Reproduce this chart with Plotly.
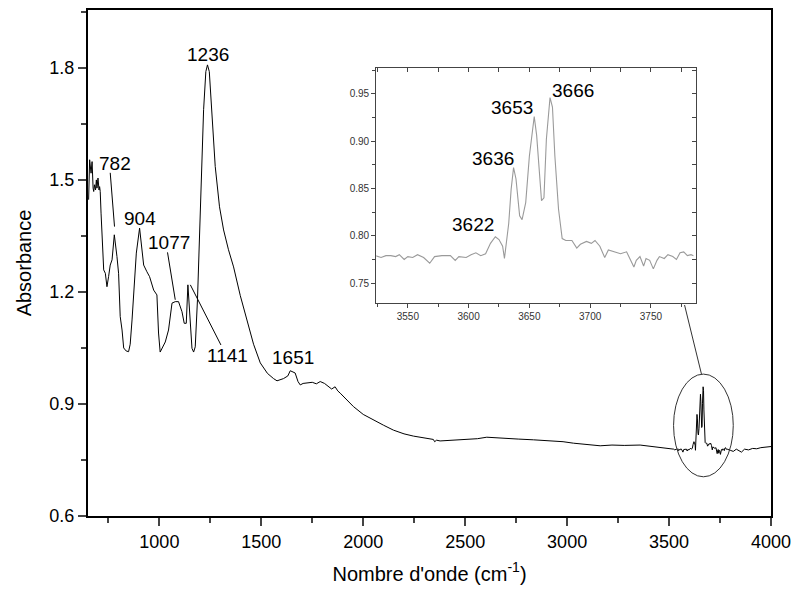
import plotly.graph_objects as go

# main spectrum, low wavenumber part
wn_low = [653, 658, 665, 670, 675, 678, 682, 687, 691, 694, 699, 704, 707, 710, 714, 719,
          727, 735, 743, 751, 759, 768, 779, 792, 800, 808, 817, 825, 837, 849, 857, 866,
          887, 903, 915, 923, 939, 952, 972, 988, 996, 1004, 1029, 1045, 1062, 1078, 1094,
          1111, 1122, 1132, 1140, 1152, 1160, 1168, 1176, 1187, 1201, 1217, 1228, 1236,
          1245, 1258, 1274, 1295, 1315, 1339, 1364, 1397, 1430, 1462, 1495, 1530, 1560,
          1577, 1609, 1630, 1642, 1655, 1666, 1680, 1691, 1705, 1724, 1750, 1770, 1789,
          1810, 1830, 1845, 1862, 1875, 1887, 1920, 1952, 2000, 2050, 2100, 2148, 2200,
          2246, 2300, 2344, 2350, 2360, 2377, 2420, 2460, 2508, 2560, 2606, 2650, 2704,
          2760, 2835, 2880, 2933, 2980, 3031, 3100, 3162, 3220, 3280, 3358, 3400, 3440,
          3480, 3500, 3515]
abs_low = [1.447, 1.554, 1.518, 1.549, 1.478, 1.469, 1.487, 1.473, 1.500, 1.478, 1.505,
           1.473, 1.482, 1.469, 1.411, 1.339, 1.259, 1.250, 1.214, 1.241, 1.272, 1.286,
           1.353, 1.295, 1.250, 1.134, 1.098, 1.050, 1.042, 1.040, 1.060, 1.125, 1.304,
           1.371, 1.313, 1.272, 1.254, 1.241, 1.205, 1.192, 1.090, 1.039, 1.066, 1.098,
           1.170, 1.174, 1.174, 1.147, 1.116, 1.116, 1.219, 1.116, 1.049, 1.039, 1.053,
           1.179, 1.447, 1.688, 1.790, 1.808, 1.790, 1.688, 1.536, 1.428, 1.366, 1.313,
           1.267, 1.190, 1.120, 1.060, 1.010, 0.982, 0.968, 0.962, 0.968, 0.975, 0.989,
           0.986, 0.983, 0.960, 0.951, 0.955, 0.957, 0.958, 0.954, 0.960, 0.955, 0.946,
           0.940, 0.946, 0.935, 0.929, 0.912, 0.893, 0.872, 0.857, 0.843, 0.830, 0.820,
           0.814, 0.808, 0.805, 0.799, 0.803, 0.801, 0.802, 0.803, 0.805, 0.807, 0.811,
           0.809, 0.808, 0.806, 0.804, 0.803, 0.802, 0.799, 0.795, 0.792, 0.788, 0.790,
           0.789, 0.790, 0.787, 0.785, 0.783, 0.781, 0.780]

# zoomed region (inset), also part of the main spectrum
wn_zoom = [3523, 3528, 3532, 3536, 3540, 3543, 3547, 3550, 3554, 3558, 3563, 3568, 3572,
           3578, 3585, 3589, 3592, 3598, 3602, 3606, 3610, 3614, 3618, 3622, 3625, 3628,
           3629.5, 3633, 3635, 3637, 3639, 3642, 3644, 3647, 3650, 3654, 3656, 3658, 3660,
           3662, 3664, 3667, 3669, 3671, 3674, 3677, 3680, 3685, 3689, 3692, 3697, 3701,
           3704, 3708, 3712, 3715, 3720, 3725, 3730, 3732, 3736, 3738, 3741, 3744, 3746,
           3749, 3752, 3755, 3757, 3761, 3764, 3768, 3771, 3774, 3777, 3780, 3783, 3785]
abs_zoom = [0.779, 0.777, 0.779, 0.779, 0.778, 0.780, 0.775, 0.778, 0.777, 0.780, 0.777,
            0.771, 0.778, 0.779, 0.779, 0.774, 0.778, 0.777, 0.780, 0.782, 0.779, 0.781,
            0.792, 0.799, 0.796, 0.789, 0.776, 0.813, 0.849, 0.872, 0.860, 0.821, 0.817,
            0.835, 0.884, 0.926, 0.906, 0.867, 0.837, 0.840, 0.902, 0.946, 0.936, 0.884,
            0.828, 0.797, 0.795, 0.795, 0.787, 0.791, 0.794, 0.792, 0.795, 0.789, 0.777,
            0.785, 0.783, 0.781, 0.783, 0.777, 0.767, 0.774, 0.778, 0.768, 0.776, 0.774,
            0.765, 0.774, 0.778, 0.776, 0.780, 0.778, 0.775, 0.782, 0.783, 0.779, 0.780,
            0.779]

wn_high = [3800, 3815, 3830, 3845, 3855, 3870, 3890, 3910, 3930, 3950, 3975, 4000]
abs_high = [0.776, 0.773, 0.779, 0.774, 0.771, 0.779, 0.777, 0.781, 0.780, 0.783, 0.784, 0.786]

# peak labels
main_peaks = ["782", "904", "1077", "1141", "1236", "1651"]
main_lab_x = [781, 907, 1049, 1335, 1240, 1654]
main_lab_y = [1.543, 1.398, 1.332, 1.029, 1.835, 1.025]
inset_peaks = ["3622", "3636", "3653", "3666"]
inset_lab_x = [3603.6, 3620, 3635.5, 3686]
inset_lab_y = [0.812, 0.882, 0.936, 0.9535]

FONT = "Arial, Liberation Sans, sans-serif"

fig = go.Figure()
fig.add_trace(go.Scatter(x=wn_low + wn_zoom + wn_high, y=abs_low + abs_zoom + abs_high,
                         mode="lines", line=dict(color="black", width=1),
                         showlegend=False, hoverinfo="skip"))
fig.add_trace(go.Scatter(x=wn_zoom, y=abs_zoom, xaxis="x2", yaxis="y2", mode="lines",
                         line=dict(color="#9a9a9a", width=1.1),
                         showlegend=False, hoverinfo="skip"))
# dummy trace so top/right inset axes are drawn
fig.add_trace(go.Scatter(x=[wn_zoom[0]], y=[abs_zoom[0]], xaxis="x3", yaxis="y3",
                         mode="markers", marker=dict(opacity=0), showlegend=False,
                         hoverinfo="skip"))

for t, x, y in zip(main_peaks, main_lab_x, main_lab_y):
    fig.add_annotation(x=x, y=y, xref="x", yref="y", text=t, showarrow=False,
                       font=dict(family=FONT, size=19, color="black"))
for t, x, y in zip(inset_peaks, inset_lab_x, inset_lab_y):
    fig.add_annotation(x=x, y=y, xref="x2", yref="y2", text=t, showarrow=False,
                       font=dict(family=FONT, size=19, color="black"))

# leader lines
leaders = [(759, 1.519, 780, 1.375), (1040, 1.306, 1078, 1.179), (1152, 1.219, 1302, 1.058)]
for x0, y0, x1, y1 in leaders:
    fig.add_shape(type="line", x0=x0, y0=y0, x1=x1, y1=y1, xref="x", yref="y",
                  line=dict(color="black", width=1))
# ellipse around the OH band and connector to the inset
fig.add_shape(type="circle", x0=3522, x1=3815, y0=0.705, y1=0.98, xref="x", yref="y",
              line=dict(color="#333333", width=1))
fig.add_shape(type="line", x0=3576, y0=1.165, x1=3659, y1=0.98, xref="x", yref="y",
              line=dict(color="#333333", width=1))

fig.update_layout(
    width=796, height=593,
    margin=dict(l=88, r=25, t=10, b=77),
    paper_bgcolor="white", plot_bgcolor="white",
    font=dict(family=FONT, color="black"),
    xaxis=dict(range=[650, 4000], tick0=0, dtick=500, ticks="outside", ticklen=8,
               tickwidth=1.5, showline=True, linewidth=2, linecolor="black",
               mirror=True, showgrid=False, zeroline=False, automargin=False,
               tickfont=dict(size=18, family=FONT),
               minor=dict(dtick=250, ticks="outside", ticklen=5, tickwidth=1.5),
               title=dict(text="Nombre d'onde (cm<sup>-1</sup>)",
                          font=dict(size=20, family=FONT), standoff=16)),
    yaxis=dict(range=[0.6, 1.955], tick0=0.6, dtick=0.3, tickformat=".1f",
               ticks="outside", ticklen=8, tickwidth=1.5, showline=True, linewidth=2,
               linecolor="black", mirror=True, showgrid=False, zeroline=False,
               automargin=False, tickfont=dict(size=18, family=FONT),
               minor=dict(dtick=0.15, ticks="outside", ticklen=5, tickwidth=1.5),
               title=dict(text="Absorbance", font=dict(size=20, family=FONT), standoff=12)),
    xaxis2=dict(domain=[0.422, 0.890], anchor="y2", range=[3524, 3787], tick0=3500,
                dtick=50, ticks="outside", ticklen=4, tickwidth=1, showline=True,
                linewidth=1.2, linecolor="#444444", mirror=True, showgrid=False,
                zeroline=False, tickfont=dict(size=10, family=FONT, color="#333333"),
                minor=dict(dtick=25, ticks="outside", ticklen=3, tickwidth=1)),
    yaxis2=dict(domain=[0.421, 0.885], anchor="x2", range=[0.729, 0.977], tick0=0.75,
                dtick=0.05, tickformat=".2f", ticks="outside", ticklen=4, tickwidth=1,
                showline=True, linewidth=1.2, linecolor="#444444", mirror=True,
                showgrid=False, zeroline=False,
                tickfont=dict(size=10, family=FONT, color="#333333"),
                minor=dict(dtick=0.025, ticks="outside", ticklen=3, tickwidth=1)),
    xaxis3=dict(overlaying="x2", anchor="y3", side="top", range=[3524, 3787], tick0=3500,
                dtick=25, ticks="inside", ticklen=4, tickwidth=1, tickcolor="#444444",
                showticklabels=False, showgrid=False, zeroline=False, showline=False),
    yaxis3=dict(overlaying="y2", anchor="x3", side="right", range=[0.729, 0.977],
                tick0=0.75, dtick=0.025, ticks="inside", ticklen=4, tickwidth=1,
                tickcolor="#444444", showticklabels=False, showgrid=False,
                zeroline=False, showline=False),
)

# page default margin would shift the figure by 8 px
fig.write_html("out.html", config={"displayModeBar": False},
               post_script="document.body.style.margin='0';")
